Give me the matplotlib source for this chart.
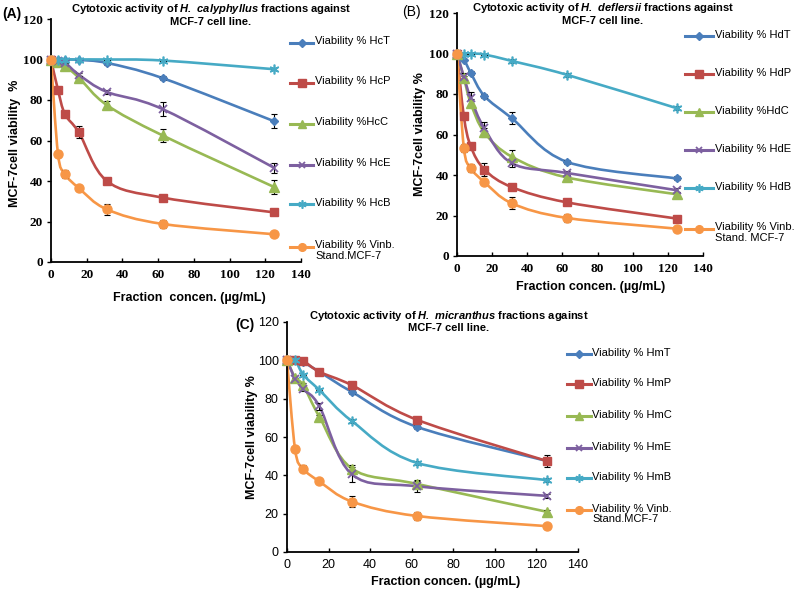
import numpy as np
import matplotlib
matplotlib.use("Agg")
import matplotlib.pyplot as plt
from matplotlib.path import Path
from matplotlib.patches import PathPatch
from matplotlib.lines import Line2D
from matplotlib.font_manager import FontProperties

plt.rcParams['font.family'] = ['Liberation Sans', 'DejaVu Sans']
plt.rcParams['mathtext.fontset'] = 'custom'
plt.rcParams['mathtext.rm'] = 'Liberation Sans:bold'
plt.rcParams['mathtext.bfit'] = 'Liberation Sans:italic:bold'

# Konzentrationen (µg/mL)
conc = [0, 3.9, 7.8, 15.6, 31.25, 62.5, 125]

# (A) H. calyphyllus
hcT = [100, 100, 100, 99.8, 98.3, 90.8, 69.5]
hcP = [100, 85, 73, 64, 40, 31.8, 24.5]
hcC = [100, 99, 97, 91, 77.5, 62.5, 37]
hcE = [100, 99.5, 98.5, 92.5, 84, 75.5, 46.5]
hcB = [100, 100, 100, 100, 100, 99.5, 95.2]
vinbA = [100, 53.5, 43.5, 36.5, 26, 18.8, 13.7]
hcT_err = [0, 0, 0, 0, 1, 1, 3.5]
hcP_err = [0, 0, 1, 3, 1, 1, 1]
hcC_err = [0, 0, 0.5, 1, 2, 3, 3.5]
hcE_err = [0, 0, 0, 1, 1, 3.5, 2.5]
hcB_err = [0, 0, 0, 0, 0, 0, 0.5]
vinbA_err = [0, 1.5, 2, 0.5, 2.8, 2, 0.5]

# (B) H. deflersii
hdT = [100, 97, 90.5, 79, 68, 46.5, 38.3]
hdP = [100, 69, 54.2, 42.7, 34, 26.5, 18.5]
hdC = [100, 88, 75.5, 61, 49, 38.8, 30.5]
hdE = [100, 88.5, 78, 63, 45.8, 41, 32.5]
hdB = [100, 100, 100, 99.5, 96.3, 89.5, 73]
vinbB = [100, 53.5, 43.5, 36.5, 26, 18.8, 13.5]
hdT_err = [0, 0, 1, 1, 3, 1, 1]
hdP_err = [0, 1, 1, 3, 1, 1, 0.5]
hdC_err = [0, 1, 2, 2, 3.5, 1, 1]
hdE_err = [0, 2, 3, 3, 2, 1, 1]
hdB_err = [0, 0, 0, 0, 1, 1, 1]
vinbB_err = [0, 2, 2, 1, 3, 2, 0.5]

# (C) H. micranthus
hmT = [100, 100, 99, 94, 83.5, 65.3, 47.5]
hmP = [100, 100, 99.7, 94, 87, 69, 47.5]
hmC = [100, 91, 87, 70.5, 43.5, 35.5, 21]
hmE = [100, 90.5, 85, 76, 40.5, 34.3, 29.3]
hmB = [100, 100, 92.5, 84.5, 68.3, 46.5, 37.5]
vinbC = [100, 53.5, 43.5, 36.8, 26.3, 18.8, 13.5]
hmT_err = [0, 0, 0, 0, 1, 1, 2]
hmP_err = [0, 0, 0, 1, 1, 1, 3]
hmC_err = [0, 0, 1, 1, 2, 2, 1]
hmE_err = [0, 0, 1, 2, 4, 3, 1]
hmB_err = [0, 0, 0, 0, 1, 1, 1]
vinbC_err = [0, 1, 2, 1, 3, 2, 1]

labelsA = ["Viability % HcT", "Viability % HcP", "Viability %HcC", "Viability % HcE",
           "Viability % HcB", "Viability % Vinb.\nStand.MCF-7"]
labelsB = ["Viability % HdT", "Viability % HdP", "Viability %HdC", "Viability % HdE",
           "Viability % HdB", "Viability % Vinb.\nStand. MCF-7"]
labelsC = ["Viability % HmT", "Viability % HmP", "Viability % HmC", "Viability % HmE",
           "Viability % HmB", "Viability % Vinb.\nStand.MCF-7"]

# Excel-Farben und Marker
stile = [
    ("#4A7EBB", "D", 4.5, 1.0),
    ("#BE4B48", "s", 6.0, 1.0),
    ("#98B954", "^", 6.5, 1.0),
    ("#7D60A0", "x", 5.5, 1.3),
    ("#46AAC5", (6, 2, 0), 7.0, 1.2),
    ("#F79646", "o", 6.5, 1.0),
]

W, H = 796, 589


def fx(px):
    return px / W


def fy(py):
    return 1 - py / H


def glatt(ax, x, y, farbe):
    # Excel "smoothed line" -> Bezier durch die Punkte
    x = np.asarray(x, float)
    y = np.asarray(y, float)
    n = len(x)
    verts = [(x[0], y[0])]
    codes = [Path.MOVETO]
    for i in range(n - 1):
        i0 = max(i - 1, 0)
        i3 = min(i + 2, n - 1)
        c1 = (x[i] + (x[i + 1] - x[i0]) / 6, y[i] + (y[i + 1] - y[i0]) / 6)
        c2 = (x[i + 1] - (x[i3] - x[i]) / 6, y[i + 1] - (y[i3] - y[i]) / 6)
        verts += [c1, c2, (x[i + 1], y[i + 1])]
        codes += [Path.CURVE4] * 3
    ax.add_patch(PathPatch(Path(verts, codes), fill=False, edgecolor=farbe, lw=1.9,
                           zorder=2, clip_on=False))


def panel(ax, reihen, fehler, tickfont):
    for (farbe, mk, ms, mew), y, e in zip(stile, reihen, fehler):
        glatt(ax, conc, y, farbe)
        ax.errorbar(conc, y, yerr=e, fmt='none', ecolor='black', elinewidth=0.8,
                    capsize=2, capthick=0.8, zorder=3)
        ax.plot(conc, y, linestyle='none', marker=mk, ms=ms, color=farbe,
                mec=farbe, mew=mew, zorder=4, clip_on=False)
    ax.set_xlim(0, 140)
    ax.set_ylim(0, 120)
    ax.set_xticks(range(0, 141, 20))
    ax.set_yticks(range(0, 121, 20))
    ax.spines['top'].set_visible(False)
    ax.spines['right'].set_visible(False)
    ax.spines['left'].set_linewidth(1.3)
    ax.spines['bottom'].set_linewidth(1.3)
    ax.tick_params(axis='x', direction='in', length=3, width=1, pad=5)
    ax.tick_params(axis='y', direction='out', length=3, width=1, pad=3)
    for t in ax.get_xticklabels() + ax.get_yticklabels():
        t.set_fontproperties(tickfont)


def legende(fig, x0, x1, xt, zeilen, labels):
    for (farbe, mk, ms, mew), yy, lab in zip(stile, zeilen, labels):
        fig.add_artist(Line2D([fx(x0), fx(x1)], [fy(yy), fy(yy)], color=farbe, lw=2.2,
                              transform=fig.transFigure))
        fig.add_artist(Line2D([fx((x0 + x1) / 2)], [fy(yy)], marker=mk, ms=ms * 0.85,
                              color=farbe, mec=farbe, mew=mew, linestyle='none',
                              transform=fig.transFigure))
        fig.text(fx(xt), fy(yy - 6.5), lab, fontsize=8, va='top', ha='left',
                 linespacing=1.05)


fig = plt.figure(figsize=(7.96, 5.89), dpi=100)

f_serif = FontProperties(family='Liberation Serif', weight='bold', size=9.5)
f_sans = FontProperties(family='Liberation Sans', size=9)

axA = fig.add_axes([fx(51), fy(262), (301 - 51) / W, (262 - 19) / H])
panel(axA, [hcT, hcP, hcC, hcE, hcB, vinbA],
      [hcT_err, hcP_err, hcC_err, hcE_err, hcB_err, vinbA_err], f_serif)
axB = fig.add_axes([fx(457), fy(256), (703 - 457) / W, (256 - 13) / H])
panel(axB, [hdT, hdP, hdC, hdE, hdB, vinbB],
      [hdT_err, hdP_err, hdC_err, hdE_err, hdB_err, vinbB_err], f_serif)
axC = fig.add_axes([fx(287), fy(552), (578 - 287) / W, (552 - 322) / H])
panel(axC, [hmT, hmP, hmC, hmE, hmB, vinbC],
      [hmT_err, hmP_err, hmC_err, hmE_err, hmB_err, vinbC_err], f_sans)

# Legenden
legende(fig, 290, 313, 315, [43, 83, 124, 165, 204, 247], labelsA)
legende(fig, 685, 713, 715, [36, 74, 112, 150, 188, 229], labelsB)
legende(fig, 567, 591, 592, [354, 384, 416, 448, 478, 510], labelsC)

# Titel
tk = dict(fontsize=8, fontweight='bold', ha='center', va='center')
fig.text(fx(211), fy(9), r"Cytotoxic activity of $\mathbfit{H.\ calyphyllus}$ fractions against", **tk)
fig.text(fx(211), fy(22), "MCF-7 cell line.", **tk)
fig.text(fx(603), fy(8), r"Cytotoxic activity of $\mathbfit{H.\ deflersii}$ fractions against", **tk)
fig.text(fx(603), fy(21), "MCF-7 cell line.", **tk)
fig.text(fx(449), fy(316), r"Cytotoxic activity of $\mathbfit{H.\ micranthus}$ fractions against", **tk)
fig.text(fx(449), fy(328), "MCF-7 cell line.", **tk)

fig.text(fx(2), fy(14), "(A)", fontsize=10, fontweight='bold', va='center')
fig.text(fx(402), fy(12), "(B)", fontsize=10, va='center')
fig.text(fx(235), fy(325), "(C)", fontsize=10, fontweight='bold', va='center')

# Achsenbeschriftungen
ak = dict(fontsize=9, fontweight='bold', ha='center', va='center')
fig.text(fx(189), fy(298), "Fraction  concen. (µg/mL)", **ak)
fig.text(fx(591), fy(287), "Fraction concen. (µg/mL)", **ak)
fig.text(fx(446), fy(582), "Fraction concen. (µg/mL)", **ak)
fig.text(fx(15), fy(143), "MCF-7cell viability  %", rotation=90, **ak)
fig.text(fx(420), fy(134), "MCF-7cell viability %", rotation=90, **ak)
fig.text(fx(252), fy(437), "MCF-7cell viability %", rotation=90, **ak)

fig.savefig("out.png", dpi=100)
